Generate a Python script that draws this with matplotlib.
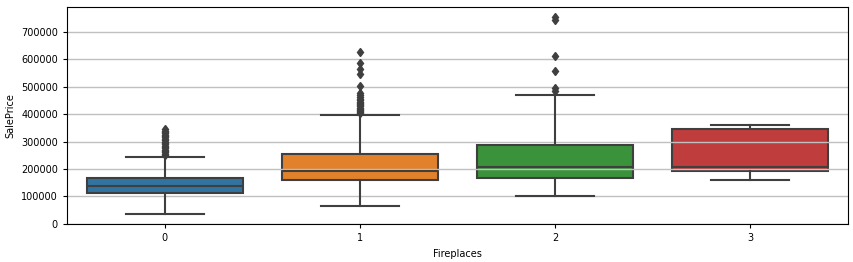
import matplotlib
matplotlib.use("Agg")
import matplotlib.pyplot as plt

# Box statistics (SalePrice by Fireplaces)
categories = ["0", "1", "2", "3"]
q1 = [112000, 160000, 165000, 194000]
median = [138500, 194000, 207000, 208000]
q3 = [168500, 255000, 288000, 345000]
whisker_lo = [35000, 63000, 102000, 160000]
whisker_hi = [245000, 398000, 471000, 362000]
fliers = [
    [250000, 255000, 260000, 265000, 270000, 275000, 280000, 285000, 290000,
     295000, 300000, 305000, 310000, 315000, 320000, 325000, 330000, 335000, 340000, 345000],
    [404000, 408000, 412000, 416000, 420000, 424000, 428000, 432000, 436000, 440000,
     445000, 450000, 455000, 462000, 468000, 476000, 503000, 546000, 564000, 588000, 626000],
    [485000, 495000, 558000, 612000, 745000, 755000],
    [],
]
colors = ["#3274A1", "#E1812C", "#3A923A", "#C03D3E"]

stats = []
for i, cat in enumerate(categories):
    stats.append({
        "label": cat,
        "q1": q1[i], "med": median[i], "q3": q3[i],
        "whislo": whisker_lo[i], "whishi": whisker_hi[i],
        "fliers": fliers[i],
    })

fig, ax = plt.subplots(figsize=(8.54, 2.62), dpi=100)
fig.subplots_adjust(left=67/854, right=848/854, top=1-7/262, bottom=1-224/262)

edge = "#3f3f3f"
lw = 1.5
bp = ax.bxp(stats, positions=range(len(categories)), widths=0.8, patch_artist=True,
            boxprops=dict(edgecolor=edge, linewidth=lw),
            medianprops=dict(color=edge, linewidth=lw),
            whiskerprops=dict(color=edge, linewidth=lw),
            capprops=dict(color=edge, linewidth=lw),
            flierprops=dict(marker="d", markerfacecolor=edge, markeredgecolor=edge,
                            markersize=4.5, linestyle="none"),
            capwidths=0.4)
for box, c in zip(bp["boxes"], colors):
    box.set_facecolor(c)
    box.set_zorder(1)

ax.set_xlim(-0.5, 3.5)
ax.set_ylim(-1105, 791005)
ax.yaxis.grid(True, color="#c0c0c0", linewidth=1.0)
ax.set_yticks([0, 100000, 200000, 300000, 400000, 500000, 600000, 700000])
ax.tick_params(labelsize=7, length=3)
ax.set_xlabel("Fireplaces", fontsize=7)
ax.set_ylabel("SalePrice", fontsize=7)

fig.savefig("out.png", dpi=100)
